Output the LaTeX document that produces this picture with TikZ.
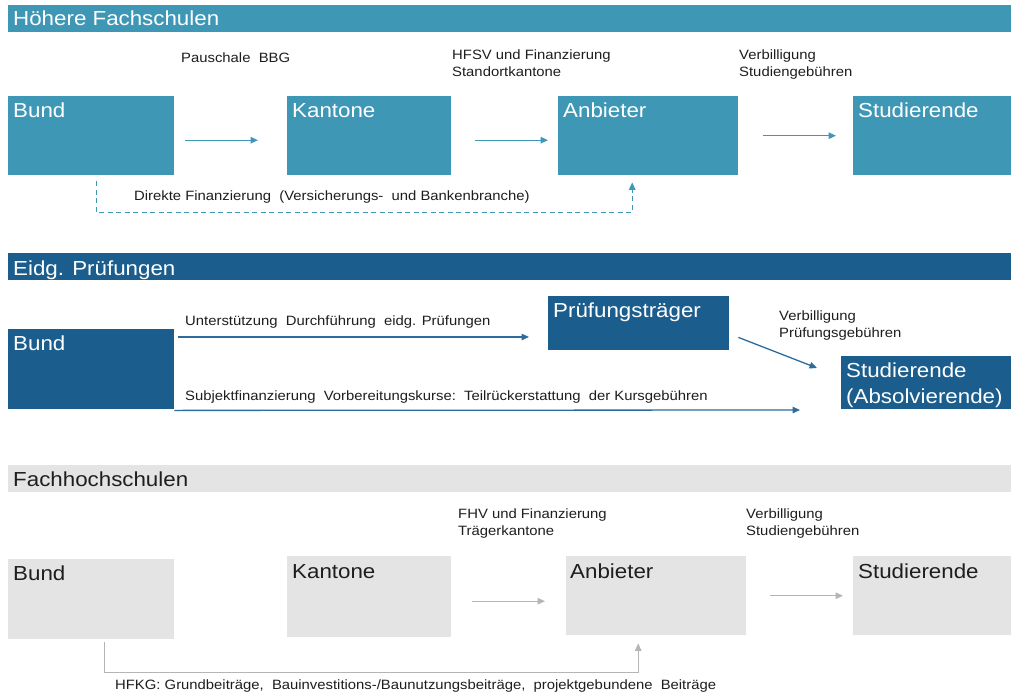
\documentclass[tikz,border=0pt]{standalone}
\usepackage{fontspec}
\setmainfont{Liberation Sans}[FakeStretch=1.1]
\usetikzlibrary{arrows.meta}
\definecolor{teal1}{HTML}{3F97B6}
\definecolor{blue2}{HTML}{1B5E8E}
\definecolor{arr2c}{HTML}{2D6C9C}
\definecolor{gray3}{HTML}{E4E4E4}
\definecolor{arr3c}{HTML}{B5B5B5}
\definecolor{txt}{HTML}{1E1E1E}
\tikzset{
  bigfont/.style={font=\fontsize{20.3}{26}\selectfont},
  smallfont/.style={font=\fontsize{13.5}{17}\selectfont},
  header/.style={anchor=north west, inner sep=0pt, minimum width=1003pt, minimum height=27pt},
  box/.style={anchor=north west, inner sep=0pt, draw=none},
  boxtxt/.style={bigfont, anchor=base west, inner sep=0pt},
  lbl/.style={smallfont, anchor=base west, inner sep=0pt, align=left, text=txt},
  arrA/.style={draw=#1, line width=1.3pt, -{Triangle[length=7.5pt,width=6.5pt]}},
}
\begin{document}
\begin{tikzpicture}[x=1pt,y=-1pt]
\useasboundingbox[fill=white] (0,0) rectangle (1011,693);
% ---------- Section 1 ----------
\node[header, fill=teal1] (h1) at (8,5) {};
\node[boxtxt, text=white] (h1t) at (13,26) {Höhere Fachschulen};
\node[box, fill=teal1, minimum width=166pt, minimum height=79pt] (bund1) at (8,96) {};
\node[box, fill=teal1, minimum width=164pt, minimum height=79pt] (kant1) at (287,96) {};
\node[box, fill=teal1, minimum width=180pt, minimum height=79pt] (anb1) at (558,96) {};
\node[box, fill=teal1, minimum width=158pt, minimum height=79pt] (stud1) at (853,96) {};
\node[boxtxt, text=white] (bund1t) at ([xshift=5pt,yshift=-21pt]bund1.north west) {Bund};
\node[boxtxt, text=white] (kant1t) at ([xshift=5pt,yshift=-21pt]kant1.north west) {Kantone};
\node[boxtxt, text=white] (anb1t) at ([xshift=5pt,yshift=-21pt]anb1.north west) {Anbieter};
\node[boxtxt, text=white] (stud1t) at ([xshift=5pt,yshift=-21pt]stud1.north west) {Studierende};
\node[lbl] (l11) at (181,63) {Pauschale\ \ BBG};
\node[lbl] (l12) at (452,76) {HFSV und Finanzierung\\Standortkantone};
\node[lbl] (l13) at (739,76) {Verbilligung\\Studiengebühren};
\draw[arrA=teal1, shorten <=11pt, shorten >=29pt] ([yshift=-4.5pt]bund1.east) -- ([yshift=-4.5pt]kant1.west);
\draw[arrA=teal1, shorten <=24pt, shorten >=10pt] ([yshift=-4.5pt]kant1.east) -- ([yshift=-4.5pt]anb1.west);
\draw[arrA=teal1, shorten <=25pt, shorten >=17pt] (anb1.east) -- (stud1.west);
\draw[arrA=teal1, dash pattern=on 5pt off 3.5pt, line width=1.1pt]
  ([xshift=5pt,yshift=-6pt]bund1.south) -- ++(0,31) -| ([xshift=-16pt,yshift=-7pt]anb1.south);
\node[lbl] (l14) at (134,200) {Direkte Finanzierung\ \ (Versicherungs-\ \ und Bankenbranche)};
% ---------- Section 2 ----------
\node[header, fill=blue2] (h2) at (8,253) {};
\node[boxtxt, text=white] (h2t) at (13,275) {Eidg. Prüfungen};
\node[box, fill=blue2, minimum width=166pt, minimum height=80pt] (bund2) at (8,329) {};
\node[box, fill=blue2, minimum width=181pt, minimum height=54pt] (pruef) at (548,296) {};
\node[box, fill=blue2, minimum width=170pt, minimum height=53pt] (stud2) at (841,356) {};
\node[boxtxt, text=white] (bund2t) at ([xshift=5pt,yshift=-21pt]bund2.north west) {Bund};
\node[boxtxt, text=white] (pruelt) at ([xshift=5pt,yshift=-21pt]pruef.north west) {Prüfungsträger};
\node[boxtxt, text=white, align=left] (stud2t) at ([xshift=5pt,yshift=-47pt]stud2.north west) {Studierende\\(Absolvierende)};
\coordinate (u1end) at (529,337);
\coordinate (s1end) at (800,410);
\draw[arrA=arr2c] ([xshift=4pt,yshift=-8pt]bund2.north east) -- (u1end);
\draw[arrA=arr2c] ([yshift=-1pt]bund2.south east) -- (s1end);
\draw[arrA=arr2c] ([xshift=9pt,yshift=13pt]pruef.south east) -- ([xshift=-24pt,yshift=-12pt]stud2.north west);
\node[lbl] (l21) at (185,325) {Unterstützung\ \ Durchführung\ \ eidg. Prüfungen};
\node[lbl] (l22) at (185,400) {Subjektfinanzierung\ \ Vorbereitungskurse:\ \ Teilrückerstattung\ \ der Kursgebühren};
\node[lbl] (l23) at (779,337) {Verbilligung\\Prüfungsgebühren};
% ---------- Section 3 ----------
\node[header, fill=gray3] (h3) at (8,465) {};
\node[boxtxt, text=txt] (h3t) at (13,486) {Fachhochschulen};
\node[box, fill=gray3, minimum width=166pt, minimum height=80pt] (bund3) at (8,559) {};
\node[box, fill=gray3, minimum width=164pt, minimum height=81pt] (kant3) at (287,556) {};
\node[box, fill=gray3, minimum width=180pt, minimum height=79pt] (anb3) at (566,556) {};
\node[box, fill=gray3, minimum width=158pt, minimum height=79pt] (stud3) at (853,556) {};
\node[boxtxt, text=txt] (bund3t) at ([xshift=5pt,yshift=-21pt]bund3.north west) {Bund};
\node[boxtxt, text=txt] (kant3t) at ([xshift=5pt,yshift=-22pt]kant3.north west) {Kantone};
\node[boxtxt, text=txt] (anb3t) at ([xshift=4pt,yshift=-22pt]anb3.north west) {Anbieter};
\node[boxtxt, text=txt] (stud3t) at ([xshift=5pt,yshift=-22pt]stud3.north west) {Studierende};
\node[lbl] (l31) at (458,535) {FHV und Finanzierung\\Trägerkantone};
\node[lbl] (l32) at (746,535) {Verbilligung\\Studiengebühren};
\draw[arrA=arr3c, shorten <=21pt, shorten >=21pt] ([yshift=-4.5pt]kant3.east) -- ([yshift=-5.5pt]anb3.west);
\draw[arrA=arr3c, shorten <=24pt, shorten >=10pt] (anb3.east) -- (stud3.west);
\draw[arrA=arr3c, line width=1.1pt]
  ([xshift=13pt,yshift=-3pt]bund3.south) -- ++(0,30) -| ([xshift=-18pt,yshift=-8pt]anb3.south);
\node[lbl] (l33) at (115,689) {HFKG: Grundbeiträge,\ \ Bauinvestitions-/Baunutzungsbeiträge,\ \ projektgebundene\ \ Beiträge};
\end{tikzpicture}
\end{document}
